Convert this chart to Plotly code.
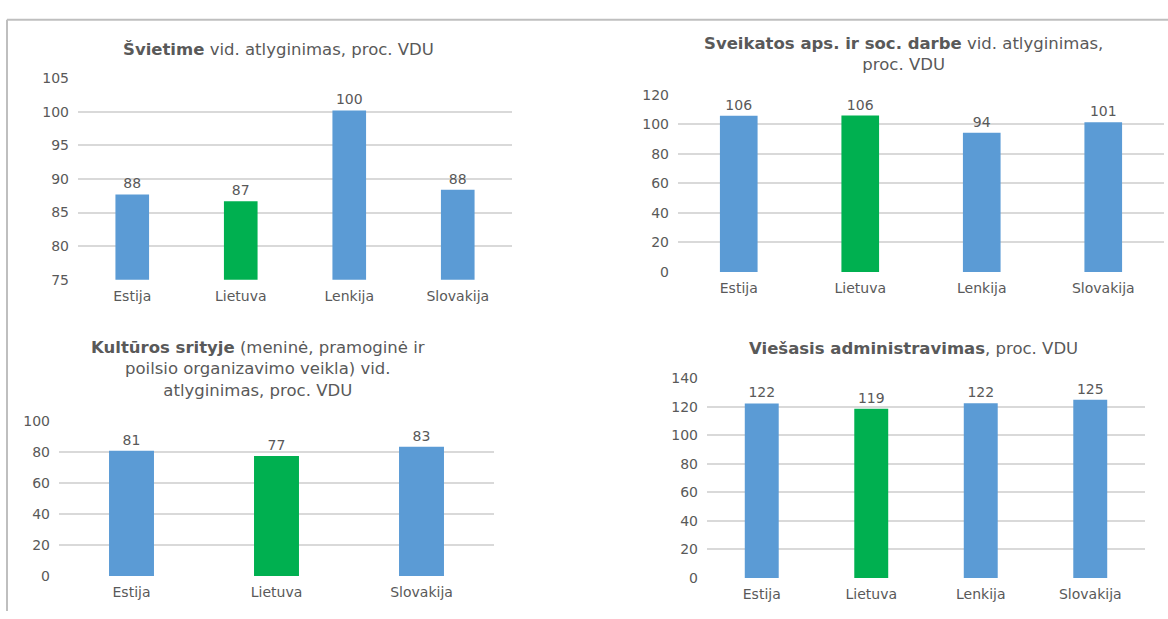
import plotly.graph_objects as go

W, H = 1168, 619

# ---- data ----
cats4 = ["Estija", "Lietuva", "Lenkija", "Slovakija"]
cats3 = ["Estija", "Lietuva", "Slovakija"]

svietimas_vals = [87.7, 86.7, 100.2, 88.4]
sveikata_vals = [105.8, 105.9, 94.2, 101.3]
kultura_vals = [80.8, 77.4, 83.4]
viesasis_vals = [122.3, 118.6, 122.4, 124.8]

title1 = "<b>Švietime</b> vid. atlyginimas, proc. VDU"
title2 = "<b>Sveikatos aps. ir soc. darbe</b> vid. atlyginimas,<br>proc. VDU"
title3 = "<b>Kultūros srityje</b> (meninė, pramoginė ir<br>poilsio organizavimo veikla) vid.<br>atlyginimas, proc. VDU"
title4 = "<b>Viešasis administravimas</b>, proc. VDU"

BLUE = "#5B9BD5"
GREEN = "#00B050"
TXT = "#595959"
GRID = "#D9D9D9"
FONT = "DejaVu Sans, Verdana, sans-serif"


def colors(cats):
    return [GREEN if c == "Lietuva" else BLUE for c in cats]


def px_x(p):
    return p / W


def px_y(p):
    return 1 - p / H


panels = [
    # cats, vals, title, xdom px, ydom px (bottom, top), range, dtick, title center px, title y px
    (cats4, svietimas_vals, title1, (78, 512), (279, 72), [75, 105], 5, 278, 43),
    (cats4, sveikata_vals, title2, (678, 1164), (271, 89), [0, 120], 20, 903, 47),
    (cats3, kultura_vals, title3, (59, 494), (583, 424), [0, 100], 20, 258, 371),
    (cats4, viesasis_vals, title4, (707, 1145), (585, 380), [0, 140], 20, 913, 350),
]

fig = go.Figure()
annotations = []
for i, (cats, vals, title, xd, yd, rng, dt, tx, ty) in enumerate(panels, start=1):
    xa = "x" if i == 1 else f"x{i}"
    ya = "y" if i == 1 else f"y{i}"
    fig.add_trace(go.Bar(
        x=cats, y=vals, xaxis=xa, yaxis=ya,
        marker=dict(color=colors(cats), line=dict(width=0)),
        width=0.31,
        text=vals, texttemplate="%{y:.0f}", textposition="outside",
        textfont=dict(color=TXT, size=14, family=FONT),
        cliponaxis=False, showlegend=False, hoverinfo="skip",
    ))
    xkey = "xaxis" if i == 1 else f"xaxis{i}"
    ykey = "yaxis" if i == 1 else f"yaxis{i}"
    fig.update_layout(**{
        xkey: dict(domain=[px_x(xd[0]), px_x(xd[1])], anchor=ya,
                   showgrid=False, showline=False, ticks="",
                   ticklabelstandoff=6,
                   tickfont=dict(color=TXT, size=14, family=FONT),
                   fixedrange=True),
        ykey: dict(domain=[px_y(yd[0]), px_y(yd[1])], anchor=xa,
                   range=rng, dtick=dt, tick0=0,
                   showgrid=True, gridcolor=GRID, gridwidth=1.5,
                   zeroline=False, showline=False, ticks="",
                   ticklabelstandoff=8,
                   tickfont=dict(color=TXT, size=14, family=FONT),
                   fixedrange=True),
    })
    annotations.append(dict(
        x=px_x(tx), y=px_y(ty), xref="paper", yref="paper",
        text=title, showarrow=False, xanchor="center", yanchor="middle",
        font=dict(color=TXT, size=16.5, family=FONT), align="center",
    ))

fig.update_layout(
    width=W, height=H,
    margin=dict(l=0, r=0, t=0, b=0),
    paper_bgcolor="white", plot_bgcolor="white",
    annotations=annotations,
    shapes=[
        dict(type="line", xref="paper", yref="paper",
             x0=px_x(7), x1=1, y0=px_y(12), y1=px_y(12),
             line=dict(color="#BFBFBF", width=2)),
        dict(type="line", xref="paper", yref="paper",
             x0=px_x(7), x1=px_x(7), y0=px_y(12), y1=0,
             line=dict(color="#BFBFBF", width=2)),
    ],
)

fig.write_html(
    "out.html",
    config={"displayModeBar": False},
    post_script="document.body.style.margin='0';document.body.style.padding='0';",
)
